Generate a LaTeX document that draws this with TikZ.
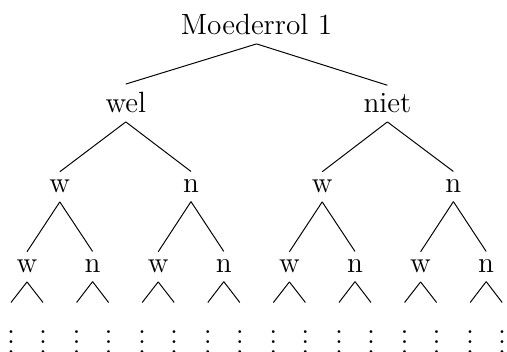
\documentclass[tikz,border=0pt]{standalone}
\begin{document}
\begin{tikzpicture}[x=0.41pt,y=-0.41pt,
  font=\fontsize{12}{14.4}\selectfont,
  lab/.style={anchor=base, inner sep=0.3333em},
  dv/.style={anchor=north, inner sep=5.5pt},
  edge/.style={line width=0.4pt}]
\useasboundingbox (0,0) rectangle (507,352);
% root and first level
\node[lab] (r) at (256.6,35) {Moederrol 1};
\node[lab] (a) at (125.8,113) {wel};
\node[lab] (b) at (387.4,113) {niet};
% second level
\node[lab] (aa) at (59.8,193) {w};
\node[lab] (ab) at (191.0,193) {n};
\node[lab] (ba) at (322.2,193) {w};
\node[lab] (bb) at (453.4,193) {n};
\draw[edge] (r.south) -- (a.north);
\draw[edge] (r.south) -- (b.north);
\draw[edge] (a.south) -- (aa.north);
\draw[edge] (a.south) -- (ab.north);
\draw[edge] (b.south) -- (ba.north);
\draw[edge] (b.south) -- (bb.north);
% third level
\foreach \i/\t in {1/w,2/n,3/w,4/n,5/w,6/n,7/w,8/n}{
  \node[lab] (l\i) at ({27+65.6*(\i-1)},273) {\t};
  \node[dv] (d\i l) at ({27+65.6*(\i-1)-16},302.5) {$\vdots$};
  \node[dv] (d\i r) at ({27+65.6*(\i-1)+16},302.5) {$\vdots$};
  \draw[edge] (l\i.south) -- (d\i l.north);
  \draw[edge] (l\i.south) -- (d\i r.north);
}
\draw[edge] (aa.south) -- (l1.north);
\draw[edge] (aa.south) -- (l2.north);
\draw[edge] (ab.south) -- (l3.north);
\draw[edge] (ab.south) -- (l4.north);
\draw[edge] (ba.south) -- (l5.north);
\draw[edge] (ba.south) -- (l6.north);
\draw[edge] (bb.south) -- (l7.north);
\draw[edge] (bb.south) -- (l8.north);
\end{tikzpicture}
\end{document}
